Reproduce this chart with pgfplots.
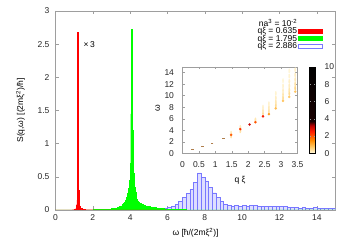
\documentclass[border=0pt]{standalone}
\usepackage{fontspec}
\setmainfont{Liberation Sans}
\usepackage{pgfplots}
\pgfplotsset{compat=1.18}
\definecolor{framegray}{gray}{0.62}
\definecolor{mygreen}{RGB}{0,255,0}
\definecolor{myred}{RGB}{255,0,0}
\definecolor{blueline}{RGB}{120,120,255}
\definecolor{bluefill}{RGB}{222,222,255}
\pgfplotsset{
  every tick label/.append style={font=\fontsize{8.5}{10}\selectfont, black!85},
  /pgf/number format/assume math mode=true,
}
\begin{document}
\fontsize{8.5}{10}\selectfont
\begin{tikzpicture}
\useasboundingbox (0,0) rectangle (354pt,248pt);
\begin{axis}[
  at={(55.5pt,38pt)}, anchor=south west, scale only axis,
  width=280pt, height=199pt,
  xmin=0, xmax=15, ymin=0, ymax=3,
  xtick={0,2,...,14}, ytick={0,0.5,...,3},
  tick align=inside, major tick length=3.5pt,
  axis line style={framegray}, every tick/.style={framegray},
  xticklabel style={yshift=-1.5pt},
  yticklabel style={xshift=-3pt},
  xlabel={ω [ħ/(2mξ\textsuperscript{2})]},
  ylabel={S(q,ω) [(2mξ\textsuperscript{2})/ħ]},
  every axis x label/.style={at={(axis description cs:0.5,-0.115)}, anchor=center},
  every axis y label/.style={at={(axis description cs:-0.125,0.5)}, rotate=90, anchor=center},
  legend style={at={(rel axis cs:0.965,0.975)}, anchor=north east, draw=none, fill=none,
    font=\fontsize{8.5}{9}\selectfont, row sep=-2pt, nodes={inner sep=1pt}},
  legend cell align=right, legend plot pos=right,
]
\addlegendimage{empty legend}
\addlegendentry{na\textsuperscript{3} = 10\textsuperscript{-2}}
\addlegendimage{legend image code/.code={\fill[myred] (0pt,-2pt) rectangle (24pt,2pt);}}
\addlegendentry{qξ = 0.635}
\addlegendimage{legend image code/.code={\fill[mygreen] (0pt,-2pt) rectangle (24pt,2pt);}}
\addlegendentry{qξ = 1.795}
\addlegendimage{legend image code/.code={\draw[blueline,fill=white] (0pt,-2pt) rectangle (24pt,2pt);}}
\addlegendentry{qξ = 2.886}

% q xi = 2.886 (histogram)
\addplot[forget plot, ybar interval, fill=bluefill, draw=blueline, line width=0.4pt] table {
x y
4.6 0.003
4.8 0.004
5.0 0.005
5.2 0.01
5.4 0.012
5.6 0.018
5.8 0.025
6.0 0.04
6.2 0.06
6.4 0.09
6.6 0.13
6.8 0.19
7.0 0.25
7.2 0.31
7.4 0.42
7.6 0.56
7.8 0.49
8.0 0.44
8.2 0.34
8.4 0.26
8.6 0.19
8.8 0.13
9.0 0.09
9.2 0.07
9.4 0.06
9.6 0.07
9.8 0.06
10.0 0.07
10.2 0.06
10.4 0.07
10.6 0.07
10.8 0.06
11.0 0.06
11.2 0.05
11.4 0.05
11.6 0.06
11.8 0.05
12.0 0.05
12.2 0.05
12.4 0.04
12.6 0.04
12.8 0.04
13.0 0.03
13.2 0.035
13.4 0.03
13.6 0.03
13.8 0.035
14.0 0.03
14.2 0.025
14.4 0.02
14.6 0.025
14.8 0.02
15.0 0.02
};
% q xi = 1.795
\addplot[forget plot, const plot, fill=mygreen, draw=mygreen, line width=0.4pt] table {
x y
0 0
2.0 0.005
2.5 0.01
2.8 0.015
3.0 0.02
3.1 0.025
3.2 0.03
3.3 0.045
3.35 0.035
3.4 0.05
3.45 0.06
3.5 0.055
3.55 0.07
3.6 0.085
3.65 0.1
3.7 0.12
3.75 0.15
3.8 0.19
3.85 0.25
3.9 0.33
3.95 0.45
4.0 0.7
4.03 1.45
4.06 2.72
4.09 2.62
4.12 1.2
4.15 0.55
4.2 0.35
4.25 0.27
4.3 0.2
4.35 0.16
4.4 0.13
4.45 0.11
4.5 0.1
4.6 0.08
4.7 0.07
4.8 0.06
4.9 0.05
5.0 0.05
5.1 0.04
5.2 0.04
5.4 0.03
5.6 0.02
5.8 0.015
6.0 0.01
6.5 0.005
7.0 0
15 0
} \closedcycle;
% q xi = 0.635 (x3)
\addplot[forget plot, ybar interval, fill=red, draw=red, line width=0.2pt] table {
x y
0.0 0
0.9 0.005
1.0 0.01
1.06 0.02
1.10 0.04
1.12 0.08
1.14 0.15
1.16 1.71
1.18 2.68
1.20 0.5
1.22 0.3
1.24 0.12
1.26 0.06
1.30 0.03
1.40 0.01
1.60 0.005
2.00 0.002
6.00 0
};
\node[anchor=west, inner sep=0pt] at (axis cs:1.5,2.5) {×\,3};
\end{axis}

\begin{axis}[
  at={(182.5pt,94.7pt)}, anchor=south west, scale only axis,
  width=115pt, height=86.4pt,
  xmin=0, xmax=3.5, ymin=0, ymax=15,
  xtick={0,0.5,...,3.5}, ytick={0,2,...,14},
  tick align=inside, major tick length=2.5pt,
  axis line style={framegray}, every tick/.style={framegray},
  axis background/.style={fill=white},
  xticklabel style={yshift=-5pt},
  yticklabel style={xshift=-5.5pt},
  xlabel={q ξ}, ylabel={ω},
  every axis x label/.style={at={(axis description cs:0.5,-0.31)}, anchor=center},
  every axis y label/.style={at={(axis description cs:-0.216,0.52)}, rotate=90, anchor=center},
  colormap={hotw}{rgb255(0)=(255,250,225) rgb255(7)=(255,205,110) rgb255(15)=(255,140,0) rgb255(25)=(255,30,0) rgb255(32)=(190,0,0) rgb255(37)=(25,0,0) rgb255(100)=(0,0,0)},
  point meta min=0, point meta max=10,
  colorbar,
  colorbar style={width=6pt, at={(parent axis.north east)}, anchor=north west, xshift=3.5pt,
    ytick={0,2,...,10}, yticklabel style={xshift=6pt}, axis line style={black},
    tick align=inside, major tick length=1.5pt},
]
% streaks
\addplot[scatter, only marks, mark=*, mark size=0.8pt,
  every mark/.append style={yscale=2.8, line width=0.1pt},
  scatter/use mapped color={draw=mapped color, fill=mapped color}, point meta=explicit]
  table[meta index=2] {
x y c
1.48 3.0 0.35
1.48 3.5 0.25
1.76 3.9 0.35
1.76 4.5 0.25
2.22 5.8 0.3
2.45 6.9 0.4
2.45 7.4 0.25
2.45 8.0 0.12
2.63 7.3 0.35
2.63 7.9 0.25
2.63 8.6 0.12
2.84 8.3 0.45
2.84 8.9 0.3
2.84 9.6 0.18
2.84 10.4 0.1
3.06 9.6 0.45
3.06 10.2 0.3
3.06 10.9 0.18
3.06 11.7 0.12
3.06 12.6 0.06
3.25 10.4 0.45
3.25 11.0 0.3
3.25 11.7 0.2
3.25 12.5 0.15
3.25 13.4 0.1
3.25 14.3 0.06
3.43 11.3 0.55
3.43 12.0 0.35
3.43 12.8 0.25
3.43 13.6 0.18
3.43 14.5 0.12
};
% peaks
\addplot[scatter, only marks, mark=*, mark size=1.2pt,
  every mark/.append style={line width=0.1pt},
  scatter/use mapped color={draw=mapped color, fill=mapped color}, point meta=explicit]
  table[meta index=2] {
x y c
1.48 3.2 2.0
1.76 4.2 2.3
2.04 5.0 3.1
2.22 5.4 2.0
2.45 6.4 2.6
2.63 6.8 1.4
2.84 7.8 0.9
3.06 9.1 0.8
3.25 9.8 0.7
3.43 10.7 0.8
};
% low-q excitations
\addplot[only marks, mark=-, mark size=1.4pt, line width=0.6pt, color=black!45!orange!70!white] table {
x y
0.30 0.70
0.60 1.30
0.90 1.80
1.25 2.60
};
\end{axis}
\end{tikzpicture}
\end{document}
